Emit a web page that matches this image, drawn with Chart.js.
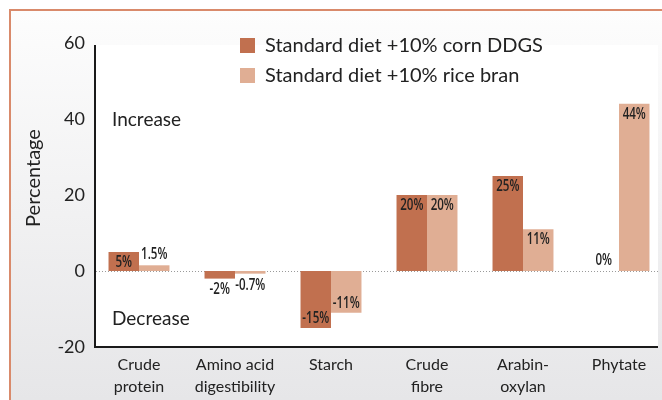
<!DOCTYPE html>
<html>
<head>
<meta charset="utf-8">
<script src="https://cdn.jsdelivr.net/npm/chart.js@4/dist/chart.umd.min.js"></script>
<style>
  html, body { margin: 0; padding: 0; background: #fff; }
  #wrap { width: 662px; height: 400px; overflow: hidden; position: relative; }
  #wrap canvas { position: absolute; left: 0; top: 0; }
</style>
</head>
<body>
<div id="wrap"><canvas id="dietChart" width="667" height="400"></canvas></div>
<script>
// categories and series values
const categories = [['Crude', 'protein'], ['Amino acid', 'digestibility'], ['Starch'], ['Crude', 'fibre'], ['Arabin-', 'oxylan'], ['Phytate']];
const seriesNames = ['Standard diet +10% corn DDGS', 'Standard diet +10% rice bran'];
const cornDdgs = [5, -2, -15, 20, 25, 0];
const riceBran = [1.5, -0.7, -11, 20, 11, 44];
const yTicks = [-20, 0, 20, 40, 60];
const zoneLabels = ['Increase', 'Decrease'];
const yTitle = 'Percentage';

const darkColor = '#C1704F';
const lightColor = '#E0AE94';
const textColor = '#222222';
const mainFont = 'Lato, "Open Sans", sans-serif';
const labelFont = '"Open Sans", Lato, sans-serif';

const ctx = document.getElementById('dietChart').getContext('2d');

// background, frame, plot area, zero line
const framePlugin = {
    id: 'frame',
    beforeDraw(chart) {
        const c = chart.ctx;
        const area = chart.chartArea;
        const y0 = chart.scales.y.getPixelForValue(0);
        c.save();
        c.fillStyle = '#ffffff';
        c.fillRect(0, 0, chart.width, chart.height);
        const g = c.createLinearGradient(0, 10, 0, 400);
        g.addColorStop(0, '#fdfdfd');
        g.addColorStop(1, '#e6e6e8');
        c.fillStyle = g;
        c.fillRect(10, 10, chart.width, chart.height);
        // orange frame
        c.fillStyle = '#D98A6B';
        c.fillRect(10, 9, chart.width, 2);
        c.fillRect(9, 9, 2, chart.height);
        // white plot area
        c.fillStyle = '#ffffff';
        c.fillRect(95, 45, 658 - 95, area.bottom - 45);
        // dotted zero line
        c.strokeStyle = '#9a9a9a';
        c.lineWidth = 1;
        c.setLineDash([1, 2]);
        c.beginPath();
        c.moveTo(96, Math.round(y0) + 0.5);
        c.lineTo(658, Math.round(y0) + 0.5);
        c.stroke();
        c.restore();
    },
    afterDatasetsDraw(chart) {
        const c = chart.ctx;
        const area = chart.chartArea;
        const yScale = chart.scales.y;
        c.save();
        // axes
        c.strokeStyle = '#1a1a1a';
        c.lineWidth = 2;
        c.beginPath();
        c.moveTo(95, 45);
        c.lineTo(95, area.bottom);
        c.lineTo(658, area.bottom);
        c.stroke();

        // value labels, drawn narrow to look condensed
        c.font = '600 17px ' + labelFont;
        c.fillStyle = textColor;
        c.textAlign = 'center';
        c.textBaseline = 'middle';
        chart.data.datasets.forEach((ds, di) => {
            const meta = chart.getDatasetMeta(di);
            meta.data.forEach((bar, i) => {
                const v = ds.data[i];
                const dir = v >= 0 ? 1 : -1;
                let y;
                if (Math.abs(v) >= 5) {
                    y = bar.y + dir * 10;
                } else {
                    y = bar.y - dir * 11;
                }
                c.save();
                c.translate(bar.x, y);
                c.scale(0.68, 1);
                c.fillText(v + '%', 0, 0);
                c.restore();
            });
        });

        // increase / decrease
        c.font = '19px ' + mainFont;
        c.textAlign = 'left';
        c.fillText(zoneLabels[0], 112, yScale.getPixelForValue(40) + 1);
        c.fillText(zoneLabels[1], 112, yScale.getPixelForValue(-12.5));

        // legend
        const colors = [darkColor, lightColor];
        c.font = '20px ' + mainFont;
        seriesNames.forEach((name, i) => {
            const ly = 45 + i * 30;
            c.fillStyle = colors[i];
            c.fillRect(240, ly - 7, 15, 15);
            c.fillStyle = textColor;
            c.fillText(name, 265, ly + 1);
        });

        // y title
        c.translate(34, 178);
        c.rotate(-Math.PI / 2);
        c.textAlign = 'center';
        c.font = '20px ' + mainFont;
        c.fillText(yTitle, 0, 0);
        c.restore();
    }
};

const dietChart = new Chart(ctx, {
    type: 'bar',
    data: {
        labels: categories,
        datasets: [{
            label: seriesNames[0],
            data: cornDdgs,
            backgroundColor: darkColor,
            barPercentage: 1.0,
            categoryPercentage: 0.635
        }, {
            label: seriesNames[1],
            data: riceBran,
            backgroundColor: lightColor,
            barPercentage: 1.0,
            categoryPercentage: 0.635
        }]
    },
    options: {
        responsive: false,
        animation: false,
        layout: { padding: { top: 43, left: 0, right: 0, bottom: 0 } },
        scales: {
            x: {
                grid: { display: false, drawTicks: false },
                border: { display: false },
                ticks: {
                    color: textColor,
                    font: { family: mainFont, size: 16, lineHeight: 1.35 },
                    padding: 7,
                    maxRotation: 0,
                    autoSkip: false
                },
                afterFit: (s) => { s.height = 53; }
            },
            y: {
                min: yTicks[0],
                max: yTicks[yTicks.length - 1],
                grid: { display: false, drawTicks: false },
                border: { display: false },
                afterBuildTicks: (s) => { s.ticks = yTicks.map(v => ({ value: v })); },
                ticks: {
                    color: textColor,
                    font: { family: mainFont, size: 18 },
                    padding: 6
                },
                afterFit: (s) => { s.width = 91; }
            }
        },
        plugins: {
            legend: { display: false },
            tooltip: { enabled: false }
        }
    },
    plugins: [framePlugin]
});
</script>
</body>
</html>
